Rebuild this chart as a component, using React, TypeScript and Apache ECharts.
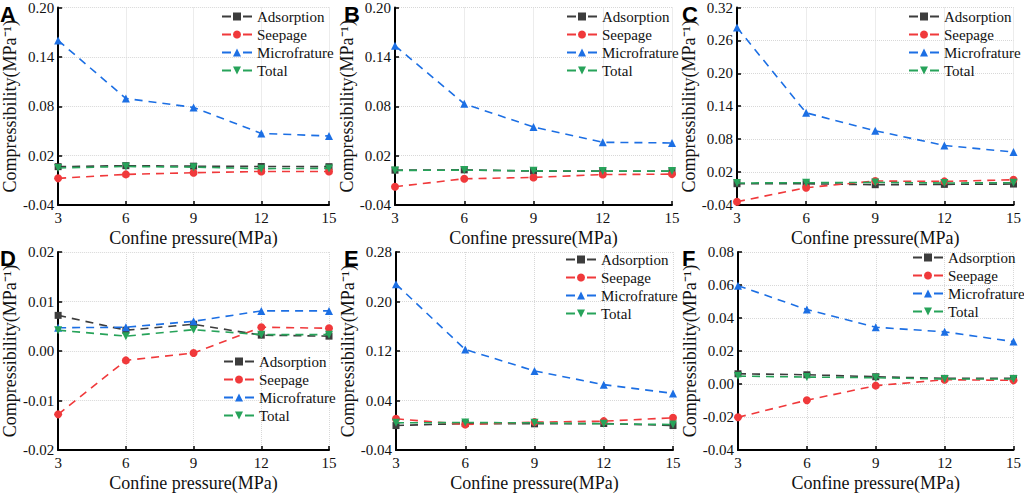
import React, { useEffect, useRef } from "react";
import * as echarts from "echarts";

const pressures = [3, 6, 9, 12, 15];
const seriesNames = ["Adsorption", "Seepage", "Microfrature", "Total"];
const panelLetters = ["A", "B", "C", "D", "E", "F"];

const aAdsorption = [0.0066, 0.0078, 0.0072, 0.0068, 0.0066];
const aSeepage = [-0.0076, -0.0028, -0.0008, 0.0008, 0.0008];
const aMicro = [0.16, 0.0895, 0.0786, 0.047, 0.0438];
const aTotal = [0.005, 0.0068, 0.006, 0.0042, 0.0045];

const bAdsorption = [0.0023, 0.0027, 0.0012, 0.0011, 0.0011];
const bSeepage = [-0.0178, -0.0081, -0.0065, -0.003, -0.0025];
const bMicro = [0.1536, 0.083, 0.0548, 0.0362, 0.0354];
const bTotal = [0.002, 0.0024, 0.0015, 0.0012, 0.0012];

const cAdsorption = [-0.0012, -0.0012, -0.003, -0.0024, -0.0018];
const cSeepage = [-0.034, -0.0085, 0.0037, 0.003, 0.006];
const cMicro = [0.2836, 0.128, 0.0953, 0.0686, 0.0565];
const cTotal = [0.0001, 0.0006, 0.0012, 0.0001, 0.0006];

const dAdsorption = [0.0072, 0.0042, 0.0054, 0.0032, 0.003];
const dSeepage = [-0.0128, -0.0019, -0.0004, 0.0048, 0.0046];
const dMicro = [0.0047, 0.0048, 0.006, 0.0081, 0.0081];
const dTotal = [0.0042, 0.003, 0.0043, 0.0033, 0.0033];

const eAdsorption = [-0.0005, 0.0028, 0.0023, 0.0028, -0.0005];
const eSeepage = [0.0104, 0.0012, 0.005, 0.0066, 0.012];
const eMicro = [0.228, 0.1224, 0.0878, 0.0656, 0.0515];
const eTotal = [0.0039, 0.0044, 0.0039, 0.0023, 0.0012];

const fAdsorption = [0.0062, 0.0056, 0.0044, 0.0034, 0.0034];
const fSeepage = [-0.0202, -0.0098, -0.001, 0.0026, 0.0022];
const fMicro = [0.0596, 0.0451, 0.0344, 0.0316, 0.0257];
const fTotal = [0.0048, 0.0042, 0.0038, 0.003, 0.003];

// y-axis ranges [min, max, interval]
const yRanges = [
  [-0.04, 0.2, 0.06],
  [-0.04, 0.2, 0.06],
  [-0.04, 0.32, 0.06],
  [-0.02, 0.02, 0.01],
  [-0.04, 0.28, 0.08],
  [-0.04, 0.08, 0.02],
];

const panelData = [
  [aAdsorption, aSeepage, aMicro, aTotal],
  [bAdsorption, bSeepage, bMicro, bTotal],
  [cAdsorption, cSeepage, cMicro, cTotal],
  [dAdsorption, dSeepage, dMicro, dTotal],
  [eAdsorption, eSeepage, eMicro, eTotal],
  [fAdsorption, fSeepage, fMicro, fTotal],
];

const grids = [
  { left: 53, top: 7, width: 276, height: 198 },
  { left: 395, top: 7, width: 277, height: 198 },
  { left: 737, top: 7, width: 277, height: 198 },
  { left: 53, top: 252, width: 276, height: 198 },
  { left: 396, top: 252, width: 277, height: 198 },
  { left: 738, top: 252, width: 276, height: 198 },
];

const legendPos = [
  { left: 216, top: 4 },
  { left: 561, top: 4 },
  { left: 903, top: 4 },
  { left: 218, top: 349 },
  { left: 560, top: 247 },
  { left: 907, top: 245 },
];

const letterPos = [
  { x: 0, y: 3 },
  { x: 344, y: 3 },
  { x: 682, y: 3 },
  { x: 0, y: 247 },
  { x: 344, y: 247 },
  { x: 682, y: 247 },
];

const colors = ["#3d3d3d", "#f0393b", "#1c6fe4", "#27a35a"];
const symbols = ["rect", "circle", "triangle", "triangle"];
const symbolRotates = [0, 0, 0, 180];
const symbolSizes = [7, 8, 8, 8];

const serif = "serif";

export default function App() {
  const ref = useRef<HTMLDivElement>(null);
  useEffect(() => {
    if (!ref.current) return;
    const chart = echarts.init(ref.current, undefined, { renderer: "svg" });

    const xAxis: any[] = [];
    const yAxis: any[] = [];
    const series: any[] = [];
    const legend: any[] = [];
    const graphic: any[] = [];

    grids.forEach((g, i) => {
      const [mn, mx, iv] = yRanges[i];
      xAxis.push({
        type: "value",
        gridIndex: i,
        min: 3,
        max: 15,
        interval: 3,
        name: "Confine pressure(MPa)",
        nameLocation: "middle",
        nameGap: 24,
        nameTextStyle: { fontFamily: serif, fontSize: 18, color: "#111" },
        axisLine: { show: true, onZero: false, lineStyle: { color: "#000", width: 2 } },
        axisTick: { show: true, inside: true, length: 4, lineStyle: { color: "#000", width: 1.5 } },
        axisLabel: { fontFamily: serif, fontSize: 15, color: "#111", margin: 5 },
        splitLine: { show: true, lineStyle: { color: "#d8d8d8", type: "dotted", width: 1 } },
      });
      yAxis.push({
        type: "value",
        gridIndex: i,
        min: mn,
        max: mx,
        interval: iv,
        name: "Compressibility(MPa⁻¹)",
        nameLocation: "middle",
        nameGap: 34,
        nameRotate: 90,
        nameTextStyle: { fontFamily: serif, fontSize: 18, color: "#111" },
        axisLine: { show: true, onZero: false, lineStyle: { color: "#000", width: 2 } },
        axisTick: { show: true, inside: true, length: 4, lineStyle: { color: "#000", width: 1.5 } },
        axisLabel: {
          fontFamily: serif,
          fontSize: 15,
          color: "#111",
          margin: 4,
          formatter: (v: number) => v.toFixed(2),
        },
        splitLine: { show: true, lineStyle: { color: "#d8d8d8", type: "dotted", width: 1 } },
      });
      panelData[i].forEach((vals, k) => {
        series.push({
          type: "line",
          name: seriesNames[k],
          xAxisIndex: i,
          yAxisIndex: i,
          data: pressures.map((p, j) => [p, vals[j]]),
          symbol: symbols[k],
          symbolRotate: symbolRotates[k],
          symbolSize: symbolSizes[k],
          lineStyle: { color: colors[k], width: 1.6, type: [8, 6] },
          itemStyle: { color: colors[k] },
          z: 3 + k,
        });
      });
      legend.push({
        orient: "vertical",
        left: legendPos[i].left,
        top: legendPos[i].top,
        itemWidth: 30,
        itemHeight: 10,
        itemGap: 3,
        data: seriesNames,
        lineStyle: { type: [9, 12], width: 2 },
        textStyle: { fontFamily: serif, fontSize: 15, color: "#111" },
        selectedMode: false,
      });
      graphic.push({
        type: "text",
        left: letterPos[i].x,
        top: letterPos[i].y,
        style: {
          text: panelLetters[i],
          fontFamily: "sans-serif",
          fontWeight: "bold",
          fontSize: 22,
          fill: "#000",
        },
      });
    });

    chart.setOption({
      animation: false,
      backgroundColor: "#fff",
      textStyle: { fontFamily: serif },
      grid: grids.map((g) => ({ ...g, containLabel: false })),
      xAxis,
      yAxis,
      series,
      legend,
      graphic,
    });
    return () => chart.dispose();
  }, []);

  return (
    <div
      ref={ref}
      style={{ position: "fixed", left: 0, top: 0, width: 1024, height: 493, background: "#fff" }}
    />
  );
}
